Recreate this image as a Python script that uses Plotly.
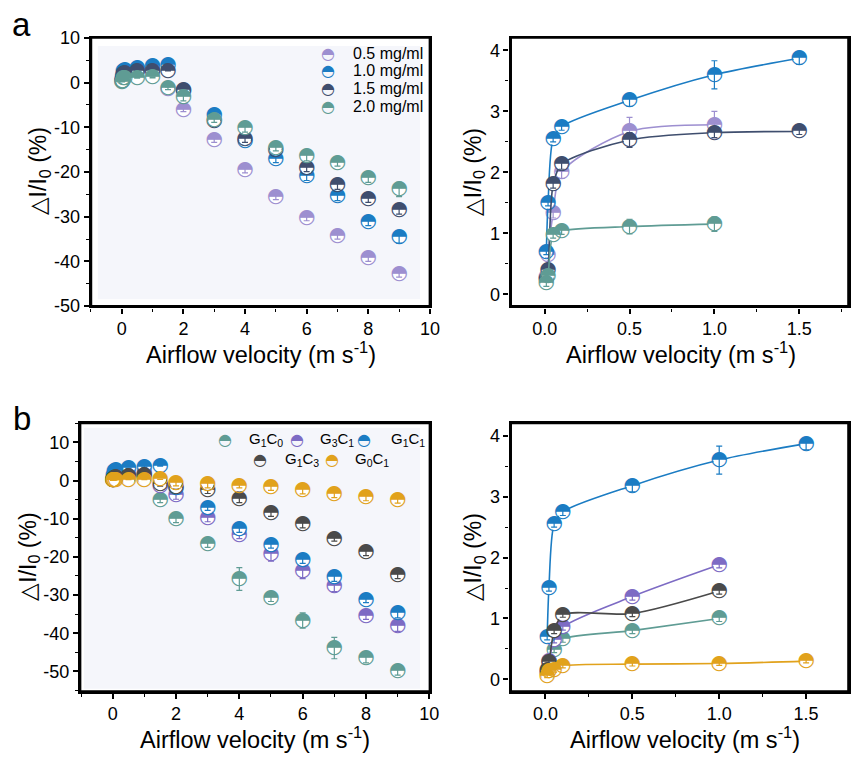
import plotly.graph_objects as go

# ---------------- data ----------------
# airflow velocity (m s^-1)
VEL = [0.01, 0.02, 0.05, 0.1, 0.5, 1.0, 1.5, 2, 3, 4, 5, 6, 7, 8, 9]

# panel a: response of films with different concentrations
A_NAMES = ["0.5 mg/ml", "1.0 mg/ml", "1.5 mg/ml", "2.0 mg/ml"]
A_05 = [0.28, 0.65, 1.33, 2.00, 2.67, 2.78, -1.4, -6.1, -12.8, -19.6, -25.7, -30.3, -34.2, -39.3, -42.9]
A_05_ERR = [0.05, 0.05, 0.08, 0.10, 0.23, 0.22, 0.3, 0.4, 0.6, 0.6, 0.5, 0.6, 0.8, 0.7, 0.6]
A_10 = [0.70, 1.50, 2.55, 2.75, 3.18, 3.60, 3.87, -1.9, -7.2, -13.0, -17.2, -21.0, -25.4, -31.2, -34.6]
A_10_ERR = [0.05, 0.05, 0.05, 0.06, 0.10, 0.23, 0.10, 0.3, 0.6, 0.8, 0.7, 0.9, 1.0, 0.8, 1.3]
A_15 = [0.25, 0.40, 1.80, 2.13, 2.53, 2.65, 2.67, -1.6, -8.6, -12.6, -15.0, -19.1, -22.9, -26.1, -28.5]
A_15_ERR = [0.05, 0.05, 0.06, 0.08, 0.12, 0.08, 0.05, 0.3, 0.5, 0.8, 0.6, 0.8, 1.0, 0.7, 0.9]
A_20 = [0.18, 0.30, 0.97, 1.04, 1.11, 1.15, -1.3, -3.3, -8.3, -10.2, -14.6, -16.5, -18.1, -21.3, -23.9]
A_20_ERR = [0.05, 0.05, 0.05, 0.06, 0.12, 0.12, 0.3, 0.8, 0.6, 0.9, 0.7, 1.0, 0.6, 1.0, 1.6]
# leading points that stay positive (shown on the low-speed panel)
A_LOW_N = [6, 7, 7, 6]

# panel b: response of different G/C ratios
B_NAMES = ["G<sub>1</sub>C<sub>0</sub>", "G<sub>3</sub>C<sub>1</sub>", "G<sub>1</sub>C<sub>1</sub>",
           "G<sub>1</sub>C<sub>3</sub>", "G<sub>0</sub>C<sub>1</sub>"]
B_G1C0 = [0.10, 0.20, 0.48, 0.66, 0.80, 1.00, -5.2, -10.1, -16.7, -25.8, -30.8, -36.7, -43.9, -46.6, -50.0]
B_G1C0_ERR = [0.03, 0.03, 0.04, 0.05, 0.05, 0.05, 0.6, 0.9, 0.8, 3.0, 0.9, 2.0, 2.8, 1.2, 1.0]
B_G3C1 = [0.12, 0.30, 0.64, 0.86, 1.36, 1.88, -1.35, -3.9, -9.9, -14.2, -19.3, -23.7, -27.6, -35.4, -38.0]
B_G3C1_ERR = [0.03, 0.03, 0.04, 0.05, 0.06, 0.05, 0.8, 1.0, 0.9, 1.0, 1.8, 2.0, 1.5, 1.0, 1.5]
B_G1C1 = [0.70, 1.50, 2.55, 2.75, 3.18, 3.60, 3.87, -2.0, -7.2, -12.8, -17.0, -20.8, -25.4, -31.2, -34.7]
B_G1C1_ERR = [0.05, 0.05, 0.05, 0.06, 0.10, 0.23, 0.10, 0.3, 0.6, 0.8, 0.7, 0.9, 1.0, 0.8, 1.3]
B_G1C3 = [0.15, 0.28, 0.79, 1.06, 1.08, 1.45, -1.0, -1.6, -2.4, -4.8, -8.4, -11.4, -15.2, -18.8, -24.8]
B_G1C3_ERR = [0.03, 0.03, 0.04, 0.04, 0.05, 0.05, 0.5, 0.6, 1.0, 1.0, 1.0, 1.0, 0.7, 0.9, 0.9]
B_G0C1 = [0.06, 0.13, 0.15, 0.22, 0.25, 0.26, 0.30, -0.6, -0.9, -1.3, -1.7, -2.5, -3.5, -4.3, -5.0]
B_G0C1_ERR = [0.03, 0.03, 0.03, 0.03, 0.03, 0.03, 0.03, 0.8, 1.0, 0.6, 0.9, 1.0, 1.0, 1.0, 0.9]
B_LOW_N = [6, 6, 7, 6, 7]

# tick labels
Y_TICKS_A = [10, 0, -10, -20, -30, -40, -50]
Y_TICKS_B = [10, 0, -10, -20, -30, -40, -50]
X_TICKS_WIDE = [0, 2, 4, 6, 8, 10]
X_TICKS_LOW = [0.0, 0.5, 1.0, 1.5]
Y_TICKS_LOW = [0, 1, 2, 3, 4]

# ---------------- style ----------------
A_COLORS = ["#9d8fd0", "#1b7cc3", "#3f4e6e", "#5f9c94"]
B_COLORS = ["#5f9c94", "#7d6bc4", "#1b7cc3", "#4a4a4a", "#e1a21c"]
GLYPH = "\u25d3"          # circle with upper half filled
GLYPH_FONT = "DejaVu Sans"
FONT = "Liberation Sans, Arial, sans-serif"
W, H = 860, 763

fig = go.Figure()


def add_series(xa, ya, x, y, err, color, name, with_line=False):
    if with_line:
        fig.add_trace(go.Scatter(
            x=x, y=y, mode="lines", xaxis=xa, yaxis=ya, showlegend=False,
            line=dict(color=color, width=1.6, shape="spline", smoothing=0.8),
            hoverinfo="skip"))
    # opaque white disk under the half-filled glyph
    fig.add_trace(go.Scatter(
        x=x, y=y, mode="markers", xaxis=xa, yaxis=ya, showlegend=False,
        marker=dict(symbol="circle", size=12, color="white", line=dict(width=0)),
        hoverinfo="skip"))
    fig.add_trace(go.Scatter(
        x=x, y=y, mode="markers", xaxis=xa, yaxis=ya, showlegend=False,
        marker=dict(size=2, opacity=0),
        error_y=dict(type="data", array=err, color=color, thickness=1.2, width=3),
        hoverinfo="skip"))
    fig.add_trace(go.Scatter(
        x=x, y=y, mode="text", xaxis=xa, yaxis=ya, name=name, showlegend=False,
        text=[GLYPH] * len(x), textposition="middle center",
        textfont=dict(family=GLYPH_FONT, size=20, color=color)))


a_series = [(A_05, A_05_ERR), (A_10, A_10_ERR), (A_15, A_15_ERR), (A_20, A_20_ERR)]
b_series = [(B_G1C0, B_G1C0_ERR), (B_G3C1, B_G3C1_ERR), (B_G1C1, B_G1C1_ERR),
            (B_G1C3, B_G1C3_ERR), (B_G0C1, B_G0C1_ERR)]

for (y, e), c, n in zip(a_series, A_COLORS, A_NAMES):
    add_series("x", "y", VEL, y, e, c, n)
for (y, e), c, n, k in zip(a_series, A_COLORS, A_NAMES, A_LOW_N):
    add_series("x2", "y2", VEL[:k], y[:k], e[:k], c, n, with_line=True)
for (y, e), c, n in zip(b_series, B_COLORS, B_NAMES):
    add_series("x3", "y3", VEL, y, e, c, n)
for (y, e), c, n, k in zip(b_series, B_COLORS, B_NAMES, B_LOW_N):
    add_series("x4", "y4", VEL[:k], y[:k], e[:k], c, n, with_line=True)


def axis(domain, rng, tickvals, ticktext, minor_dtick, anchor):
    return dict(
        domain=domain, range=rng, anchor=anchor,
        tickmode="array", tickvals=tickvals, ticktext=ticktext,
        ticks="outside", ticklen=5, tickwidth=1.6, tickcolor="black",
        minor=dict(ticks="outside", ticklen=3, tickwidth=1.4, tickcolor="black",
                   dtick=minor_dtick, showgrid=False),
        showline=True, linewidth=2.4, linecolor="black", mirror=True,
        showgrid=False, zeroline=False,
        tickfont=dict(family=FONT, size=18, color="black"))


def py(px):
    return 1 - px / H


def pxx(px):
    return px / W


top = [py(305), py(29.3)]
bot = [py(700), py(424.5)]
left_a = [pxx(92), pxx(435)]
left_b = [pxx(81), pxx(435)]
right = [pxx(516.7), pxx(858.5)]

fmt = lambda v: f"{v:g}"
fig.update_layout(
    width=W, height=H, margin=dict(l=0, r=0, t=0, b=0),
    paper_bgcolor="white", plot_bgcolor="rgba(0,0,0,0)", showlegend=False,
    xaxis=axis(left_a, [-1, 10], X_TICKS_WIDE, [fmt(v) for v in X_TICKS_WIDE], 1, "y"),
    yaxis=axis(top, [-50.05, 10.05], Y_TICKS_A, [fmt(v) for v in Y_TICKS_A], 5, "x"),
    xaxis2=axis(right, [-0.2, 1.79], X_TICKS_LOW, [f"{v:.1f}" for v in X_TICKS_LOW], 0.25, "y2"),
    yaxis2=axis(top, [-0.2, 4.21], Y_TICKS_LOW, [fmt(v) for v in Y_TICKS_LOW], 0.5, "x2"),
    xaxis3=axis(left_b, [-1.03, 10.02], X_TICKS_WIDE, [fmt(v) for v in X_TICKS_WIDE], 1, "y3"),
    yaxis3=axis(bot, [-55.3, 15.1], Y_TICKS_B, [fmt(v) for v in Y_TICKS_B], 5, "x3"),
    xaxis4=axis(right, [-0.2, 1.744], X_TICKS_LOW, [f"{v:.1f}" for v in X_TICKS_LOW], 0.25, "y4"),
    yaxis4=axis(bot, [-0.2, 4.21], Y_TICKS_LOW, [fmt(v) for v in Y_TICKS_LOW], 0.5, "x4"),
)

# pale inner panels of the wide-range plots (paper coordinates, inset from the frame)
for xd, yd, inset in [(left_a, top, (7, 10, 8.7, 7.3)), (left_b, bot, (4, 10, 5, 3))]:
    l, r, t, b = inset
    fig.add_shape(type="rect", xref="paper", yref="paper",
                  x0=xd[0] + l / W, x1=xd[1] - r / W, y0=yd[0] + b / H, y1=yd[1] - t / H,
                  fillcolor="#f5f6fb", line=dict(width=0), layer="below")

# black frame around every subplot
for xd, yd in [(left_a, top), (right, top), (left_b, bot), (right, bot)]:
    fig.add_shape(type="rect", xref="paper", yref="paper",
                  x0=xd[0], x1=xd[1], y0=yd[0], y1=yd[1],
                  line=dict(color="black", width=2.6),
                  fillcolor="rgba(0,0,0,0)", layer="above")

ann = []
YT = "\u25b3I/I<sub>0</sub> (%)"
XT = "Airflow velocity (m s<sup>-1</sup>)"
for xc, yc in [(40, 167), (480, 167), (29, 562), (480, 562)]:
    ann.append(dict(x=pxx(xc), y=py(yc), text=YT, textangle=-90, showarrow=False,
                    xref="paper", yref="paper", xanchor="center", yanchor="middle",
                    font=dict(family=FONT, size=23, color="black")))
for xc, yc in [(264, 353), (689, 353), (258, 748), (693, 748)]:
    ann.append(dict(x=pxx(xc), y=py(yc), text=XT, showarrow=False,
                    xref="paper", yref="paper", xanchor="center", yanchor="middle",
                    font=dict(family=FONT, size=23.5, color="black")))
for lab, xc, yc in [("a", 22, 16), ("b", 22, 420)]:
    ann.append(dict(x=pxx(xc), y=py(yc), text=lab, showarrow=False,
                    xref="paper", yref="paper", xanchor="center", yanchor="middle",
                    font=dict(family=FONT, size=33, color="black")))

# legend entries: glyph + label
leg_a = [(332, 46), (332, 63.5), (332, 82), (332, 100)]
for (gx, gy), c, n in zip(leg_a, A_COLORS, A_NAMES):
    ann.append(dict(x=pxx(gx), y=py(gy), text=GLYPH, showarrow=False, xref="paper", yref="paper",
                    xanchor="center", yanchor="middle",
                    font=dict(family=GLYPH_FONT, size=16, color=c)))
    ann.append(dict(x=pxx(355), y=py(gy), text=n, showarrow=False, xref="paper", yref="paper",
                    xanchor="left", yanchor="middle",
                    font=dict(family=FONT, size=16, color="black")))

leg_b = [(228, 442, 250), (300, 442, 322), (368, 442, 394), (263, 462, 286), (336, 462, 357)]
for (gx, gy, tx), c, n in zip(leg_b, B_COLORS, B_NAMES):
    ann.append(dict(x=pxx(gx), y=py(gy), text=GLYPH, showarrow=False, xref="paper", yref="paper",
                    xanchor="center", yanchor="middle",
                    font=dict(family=GLYPH_FONT, size=16, color=c)))
    ann.append(dict(x=pxx(tx), y=py(gy), text=n, showarrow=False, xref="paper", yref="paper",
                    xanchor="left", yanchor="middle",
                    font=dict(family=FONT, size=15, color="black")))

fig.update_layout(annotations=ann)
fig.write_html("out.html")
